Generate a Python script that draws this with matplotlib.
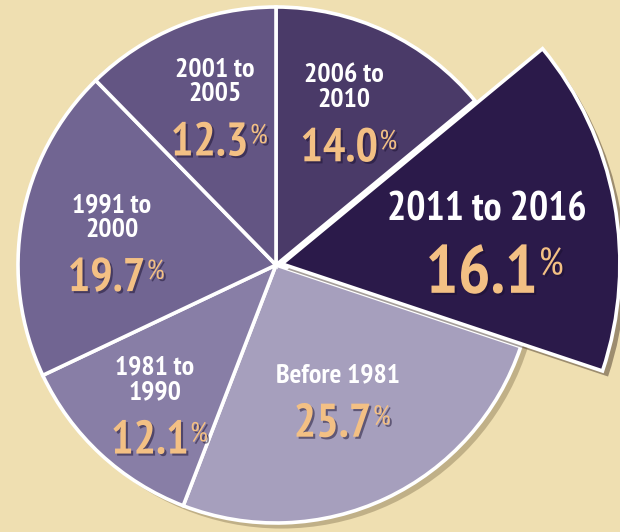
import numpy as np
import matplotlib
matplotlib.use('Agg')
import matplotlib.pyplot as plt
import matplotlib.patheffects as pe
from matplotlib.patches import Circle

## DATA: SHARE OF HOUSING BY YEAR BUILT (CLOCKWISE FROM 12 O'CLOCK)
periods = ['2006 to\n2010', '2011 to 2016', 'Before 1981', '1981 to\n1990', '1991 to\n2000', '2001 to\n2005']
shares = [14.0, 16.1, 25.7, 12.1, 19.7, 12.3]
share_labels = ['14.0', '16.1', '25.7', '12.1', '19.7', '12.3']

## STYLE
bg = '#efdfb1'
colors = ['#4a3a68', '#2b1a4a', '#a69fbd', '#887ea6', '#716592', '#635583']
num_color = '#f3c084'
plt.rcParams['font.family'] = ['PT Sans Narrow', 'Fira Sans Condensed', 'Roboto Condensed', 'DejaVu Sans']

W, H = 620, 532
fig = plt.figure(figsize=(W / 100, H / 100), dpi=100, facecolor=bg)
ax = fig.add_axes([0, 0, 1, 1])
ax.set_facecolor(bg)

cx, cy, R = 276, 267, 258

## SOFT SHADOW BEHIND THE PIE
shadow_disc = Circle((cx, cy), R, facecolor=bg, edgecolor='none', zorder=0)
shadow_disc.set_path_effects([pe.SimplePatchShadow(offset=(4, -4), shadow_rgbFace='#6b5a3a', alpha=0.35)])
ax.add_patch(shadow_disc)

explode = [0, 6, 0, 0, 0, 0]
wedges, _ = ax.pie(shares, colors=colors, startangle=90, counterclock=False,
                   center=(cx, cy), radius=R, explode=explode,
                   wedgeprops=dict(edgecolor='white', linewidth=2.6))

## THE 2011 TO 2016 SLICE IS DRAWN BIGGER AND POPS OUT
big = wedges[1]
big.set_radius(338)
big.set_zorder(5)
big.set_path_effects([pe.SimplePatchShadow(offset=(4, -4), shadow_rgbFace='#3a2a20', alpha=0.45), pe.Normal()])

## LABEL ANCHORS (FRACTION OF SMALL RADIUS, ANGLE NUDGE IN DEGREES)
rfrac = [0.62, 0.80, 0.56, 0.74, 0.64, 0.63]
nudge = [0, -3, 0, 3.5, 5, 0]
lab_size = [20, 29, 20, 20, 20, 20]
num_size = [34, 49, 34, 34, 34, 34]
pct_size = [20, 28, 20, 20, 20, 20]

shadow_txt = [pe.withSimplePatchShadow(offset=(1.5, -1.5), shadow_rgbFace='#1a1030', alpha=0.5)]

for i, w in enumerate(wedges):
    mid = np.deg2rad((w.theta1 + w.theta2) / 2 + nudge[i])
    wx, wy = w.center
    lx = wx + rfrac[i] * R * np.cos(mid)
    ly = wy + rfrac[i] * R * np.sin(mid)
    ax.text(lx, ly + 8, periods[i], ha='center', va='bottom', color='white',
            fontsize=lab_size[i], fontweight='bold', linespacing=1.05, zorder=10)
    t = ax.text(lx - 5, ly - 8, share_labels[i], ha='center', va='top', color=num_color,
                fontsize=num_size[i], fontweight='bold', zorder=10, path_effects=shadow_txt)
    ax.annotate('%', xy=(1.0, 0.95), xycoords=t, xytext=(1, 0), textcoords='offset points',
                ha='left', va='top', color=num_color, fontsize=pct_size[i], zorder=10,
                path_effects=shadow_txt)

ax.set_xlim(0, W)
ax.set_ylim(0, H)
ax.set_aspect('equal')
ax.axis('off')

fig.savefig('out.png', dpi=100, facecolor=bg)
